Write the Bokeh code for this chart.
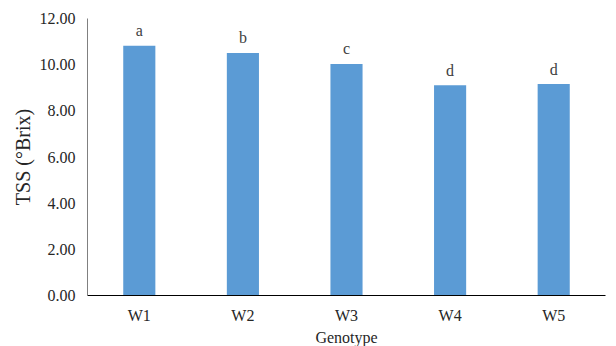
from bokeh.plotting import figure
from bokeh.models import ColumnDataSource, FactorRange, Range1d, NumeralTickFormatter, FixedTicker
from bokeh.embed import file_html
from bokeh.resources import INLINE
from bokeh.core.properties import value

genotypes = ["W1", "W2", "W3", "W4", "W5"]
tss = [10.82, 10.51, 10.03, 9.11, 9.16]
letters = ["a", "b", "c", "d", "d"]
y_ticks = [0, 2, 4, 6, 8, 10, 12]

FONT = "Liberation Serif"

src = ColumnDataSource(dict(g=genotypes, v=tss, lab=letters))

p = figure(width=606, height=348, x_range=FactorRange(*genotypes, range_padding=0),
           y_range=Range1d(0, 12), output_backend="svg", toolbar_location=None,
           min_border_left=87, min_border_right=1, min_border_top=18, min_border_bottom=40)
p.outline_line_color = None
p.xgrid.grid_line_color = None
p.ygrid.grid_line_color = None

p.vbar(x="g", top="v", width=0.31, source=src, fill_color="#5B9BD5", line_color=None)
p.text(x="g", y="v", text="lab", source=src, text_align="center", text_baseline="alphabetic",
       y_offset=-15, text_font=value(FONT), text_font_size="16px", text_color="#404040")

p.yaxis.ticker = FixedTicker(ticks=y_ticks)
p.yaxis.formatter = NumeralTickFormatter(format="0.00")
p.yaxis.axis_label = "TSS (°Brix)"
p.xaxis.axis_label = "Genotype"

for ax in (p.xaxis, p.yaxis):
    ax.major_tick_line_color = None
    ax.minor_tick_line_color = None
    ax.major_tick_out = 0
    ax.major_tick_in = 0
    ax.major_label_text_font = FONT
    ax.major_label_text_font_size = "16px"
    ax.major_label_text_color = "#262626"
    ax.axis_label_text_font = FONT
    ax.axis_label_text_font_style = "normal"
    ax.axis_label_text_font_size = "16px"
    ax.axis_label_text_color = "#262626"

p.yaxis.axis_label_text_font_size = "20px"
p.yaxis.axis_line_color = "#808080"
p.xaxis.axis_line_color = "#000000"
p.yaxis.major_label_standoff = 12
p.xaxis.major_label_standoff = 11
p.yaxis.axis_label_standoff = 3
p.xaxis.axis_label_standoff = 2

open("out.html", "w").write(file_html(p, INLINE))
